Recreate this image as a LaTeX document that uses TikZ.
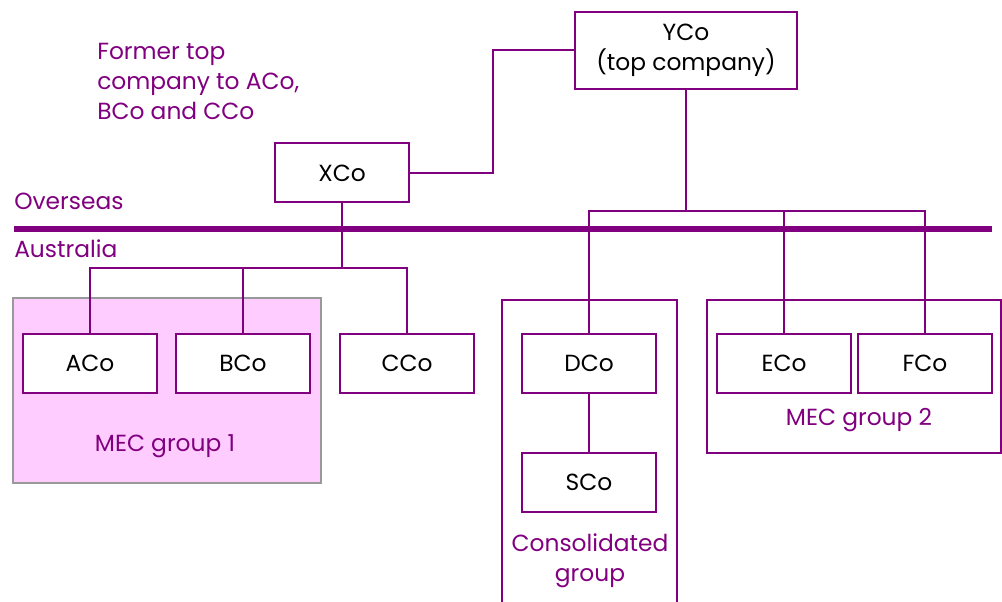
\documentclass[tikz,border=0pt]{standalone}
\usepackage{fontspec}
\setmainfont{Poppins}
\definecolor{mecpurple}{HTML}{800080}
\definecolor{mecpink}{HTML}{FFCCFF}
\definecolor{mecgray}{HTML}{999999}
\begin{document}
\begin{tikzpicture}[x=0.75pt, y=-0.75pt]
            \tikzstyle{link} = [color=mecpurple, line width=1.5pt]
            \tikzstyle{border} = [link, line width=4.5pt]
            \tikzstyle{company} = [draw=mecpurple, line width=1.5pt, fill=white, minimum width=100.5pt, minimum height=44.25pt, inner sep=0pt, font=\fontsize{17.5}{22.5}\selectfont]
            \tikzstyle{label} = [color=mecpurple, inner sep=0pt, font=\fontsize{17.5}{22.5}\selectfont]
            \useasboundingbox (0, 0) rectangle (1002, 602);
            % group boxes
            \draw[fill=mecpink, draw=mecgray, line width=1.5pt] (13, 298) rectangle (321, 483);
            \draw[link] (502, 610) -- (502, 300) -- (677, 300) -- (677, 610);
            \draw[link] (707, 300) rectangle (1001, 453);
            % overseas / australia border
            \draw[border] (14, 229) -- (992, 229);
            \node[label, anchor=west] (overseas) at (14, 201) {Overseas};
            \node[label, anchor=west] (australia) at (14, 249) {Australia};
            \node[label, anchor=north west, align=left] (former) at (97, 43) {Former top\\company to ACo,\\BCo and CCo};
            % companies
            \node[company] (XCo) at (342, 173) {XCo};
            \node[company, minimum width=166.5pt, minimum height=57.75pt, align=center] (YCo) at (686, 50.5) {YCo\\(top company)};
            \node[company] (ACo) at (90, 363.5) {ACo};
            \node[company] (BCo) at (243, 363.5) {BCo};
            \node[company] (CCo) at (407, 363.5) {CCo};
            \node[company] (DCo) at (589, 363.5) {DCo};
            \node[company] (SCo) at (589, 482) {SCo};
            \node[company] (ECo) at (784, 363.5) {ECo};
            \node[company] (FCo) at (925, 363.5) {FCo};
            \node[label] (mec1) at (165, 446) {MEC group 1};
            \node[label] (mec2) at (859, 420) {MEC group 2};
            \node[label, align=center] (consol) at (590, 561) {Consolidated\\group};
            % ownership lines
            \coordinate (xbus) at (342, 268);
            \coordinate (ybus) at (686, 211);
            \draw[link] (XCo.east) -- ++(83, 0) |- (YCo.west);
            \draw[link] (XCo.south) -- (xbus);
            \draw[link] (ACo.north) |- (xbus) -| (CCo.north);
            \draw[link] (BCo.north) -- (BCo.north |- xbus);
            \draw[link] (YCo.south) -- (ybus);
            \draw[link] (DCo.north) |- (ybus) -| (FCo.north);
            \draw[link] (ECo.north) -- (ECo.north |- ybus);
            \draw[link] (DCo.south) -- (SCo.north);
        \end{tikzpicture}
\end{document}
